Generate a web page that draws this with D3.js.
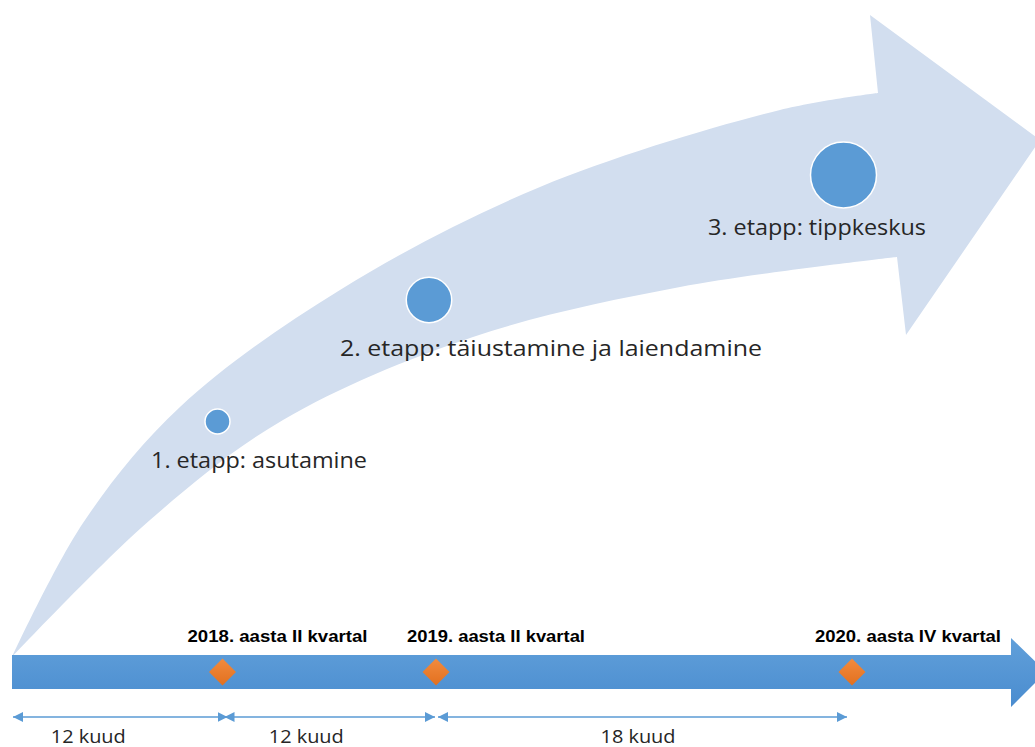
<!DOCTYPE html>
<html>
<head>
<meta charset="utf-8">
<script src="https://cdn.jsdelivr.net/npm/d3@7"></script>
<style>
  body { margin: 0; background: #fff; }
  svg { display: block; }
</style>
</head>
<body>
<svg id="chart" width="1035" height="747"></svg>
<script>
// stages along the curved arrow
const stageLabels = ["1. etapp: asutamine", "2. etapp: täiustamine ja laiendamine", "3. etapp: tippkeskus"];
const stageLevel = [1, 2, 3];

// milestones on the timeline (months from start)
const milestoneLabels = ["2018. aasta II kvartal", "2019. aasta II kvartal", "2020. aasta IV kvartal"];
const milestoneMonths = [12, 24, 42];

// durations between milestones
const durationLabels = ["12 kuud", "12 kuud", "18 kuud"];
const durationMonths = [12, 12, 18];

let svg = d3.select("#chart");
let defs = svg.append("defs");

// gradients
let gBar = defs.append("linearGradient").attr("id", "barGrad").attr("x1", 0).attr("y1", 0).attr("x2", 0).attr("y2", 1);
gBar.append("stop").attr("offset", "0%").attr("stop-color", "#61a0da");
gBar.append("stop").attr("offset", "100%").attr("stop-color", "#4a8ccf");
let gDia = defs.append("linearGradient").attr("id", "diaGrad").attr("x1", 0).attr("y1", 0).attr("x2", 0).attr("y2", 1);
gDia.append("stop").attr("offset", "0%").attr("stop-color", "#f28b3e");
gDia.append("stop").attr("offset", "100%").attr("stop-color", "#e2701f");

defs.append("marker").attr("id", "arrEnd")
    .attr("viewBox", "0 0 10 10").attr("refX", 10).attr("refY", 5)
    .attr("markerWidth", 10).attr("markerHeight", 10).attr("markerUnits", "userSpaceOnUse")
    .attr("orient", "auto")
    .append("path").attr("d", "M0,0L10,5L0,10Z").attr("fill", "#5b9bd5");
defs.append("marker").attr("id", "arrStart")
    .attr("viewBox", "0 0 10 10").attr("refX", 0).attr("refY", 5)
    .attr("markerWidth", 10).attr("markerHeight", 10).attr("markerUnits", "userSpaceOnUse")
    .attr("orient", "auto")
    .append("path").attr("d", "M10,0L0,5L10,10Z").attr("fill", "#5b9bd5");

// ---- curved arrow (background band)
let upper = [[12,657],[83,523],[180,407],[340,290],[540,187],[780,110],[878,93]];
let lower = [[897,257],[680,287],[473,337],[283,420],[150,520],[12,657]];
let edge = d3.line().curve(d3.curveCatmullRom.alpha(0.5));
let bandPath = edge(upper) + "L870,15L1040,140L906,335" + edge(lower).replace(/^M/, "L") + "Z";
svg.append("path").attr("d", bandPath).attr("fill", "#d2deef");

// ---- stages
let sx = d3.scaleLinear().domain([1, 2, 3]).range([217.5, 429, 843.5]);
let sy = d3.scaleLinear().domain([1, 2, 3]).range([421.5, 300, 175]);
let sr = d3.scaleLinear().domain([1, 3]).range([12.5, 33]);
let labelX = d3.scaleLinear().domain([1, 2, 3]).range([151, 340, 708]);
let labelY = d3.scaleLinear().domain([1, 2, 3]).range([468, 356, 235]);
let labelW = [216, 422, 218];

let stages = stageLabels.map((d, i) => ({ label: d, level: stageLevel[i] }));
svg.selectAll(".stage-dot")
    .data(stages)
    .enter().append("circle")
    .attr("class", "stage-dot")
    .attr("cx", d => sx(d.level))
    .attr("cy", d => sy(d.level))
    .attr("r", d => sr(d.level))
    .attr("fill", "#5b9bd5")
    .attr("stroke", "#ffffff")
    .attr("stroke-width", 1.5);

svg.selectAll(".stage-label")
    .data(stages)
    .enter().append("text")
    .attr("class", "stage-label")
    .attr("x", d => labelX(d.level))
    .attr("y", d => labelY(d.level))
    .attr("textLength", (d, i) => labelW[i])
    .attr("lengthAdjust", "spacingAndGlyphs")
    .style("font", "21px 'Open Sans', sans-serif")
    .attr("fill", "#262626")
    .text(d => d.label);

// ---- timeline
let x = d3.scaleLinear().domain([0, 12, 24, 42]).range([12, 222.5, 436, 852]);
let barTop = 655, barBot = 689, barMid = (barTop + barBot) / 2;
svg.append("path")
    .attr("d", `M${x(0)},${barTop}L1011,${barTop}L1011,638L1046,${barMid}L1011,707L1011,${barBot}L${x(0)},${barBot}Z`)
    .attr("fill", "url(#barGrad)");

let ms = milestoneLabels.map((d, i) => ({ label: d, month: milestoneMonths[i] }));
let dsz = 13.5;
svg.selectAll(".milestone")
    .data(ms)
    .enter().append("path")
    .attr("class", "milestone")
    .attr("d", d => `M${x(d.month)},${barMid - dsz}L${x(d.month) + dsz},${barMid}L${x(d.month)},${barMid + dsz}L${x(d.month) - dsz},${barMid}Z`)
    .attr("fill", "url(#diaGrad)");

let msLabelOffset = [-35, -29, -37];
let msLabelW = [180, 178, 186];
svg.selectAll(".milestone-label")
    .data(ms)
    .enter().append("text")
    .attr("class", "milestone-label")
    .attr("x", (d, i) => x(d.month) + msLabelOffset[i])
    .attr("y", 642)
    .attr("textLength", (d, i) => msLabelW[i])
    .attr("lengthAdjust", "spacingAndGlyphs")
    .style("font", "bold 17px 'Liberation Sans Narrow', 'Liberation Sans', sans-serif")
    .attr("fill", "#000")
    .text(d => d.label);

// ---- duration arrows
let cum = d3.cumsum(durationMonths);
let durs = durationLabels.map((d, i) => ({ label: d, start: i === 0 ? 0 : cum[i - 1], end: cum[i] }));
let ay = 717;
svg.selectAll(".duration")
    .data(durs)
    .enter().append("line")
    .attr("class", "duration")
    .attr("x1", d => x(d.start) + (d.start === 0 ? 1 : 2))
    .attr("x2", d => x(d.end) - (d.end === 42 ? 4 : 0) + (d.end === 12 ? 5 : -1))
    .attr("y1", ay).attr("y2", ay)
    .attr("stroke", "#5b9bd5")
    .attr("stroke-width", 1.6)
    .attr("marker-start", "url(#arrStart)")
    .attr("marker-end", "url(#arrEnd)");

svg.selectAll(".duration-label")
    .data(durs)
    .enter().append("text")
    .attr("class", "duration-label")
    .attr("x", d => (x(d.start) + x(d.end)) / 2 + (d.start === 0 ? -29 : (d.start === 12 ? -23 : -6)))
    .attr("y", 743)
    .attr("text-anchor", "middle")
    .attr("textLength", 75)
    .attr("lengthAdjust", "spacingAndGlyphs")
    .style("font", "18px 'Open Sans', sans-serif")
    .attr("fill", "#262626")
    .text(d => d.label);
</script>
</body>
</html>
